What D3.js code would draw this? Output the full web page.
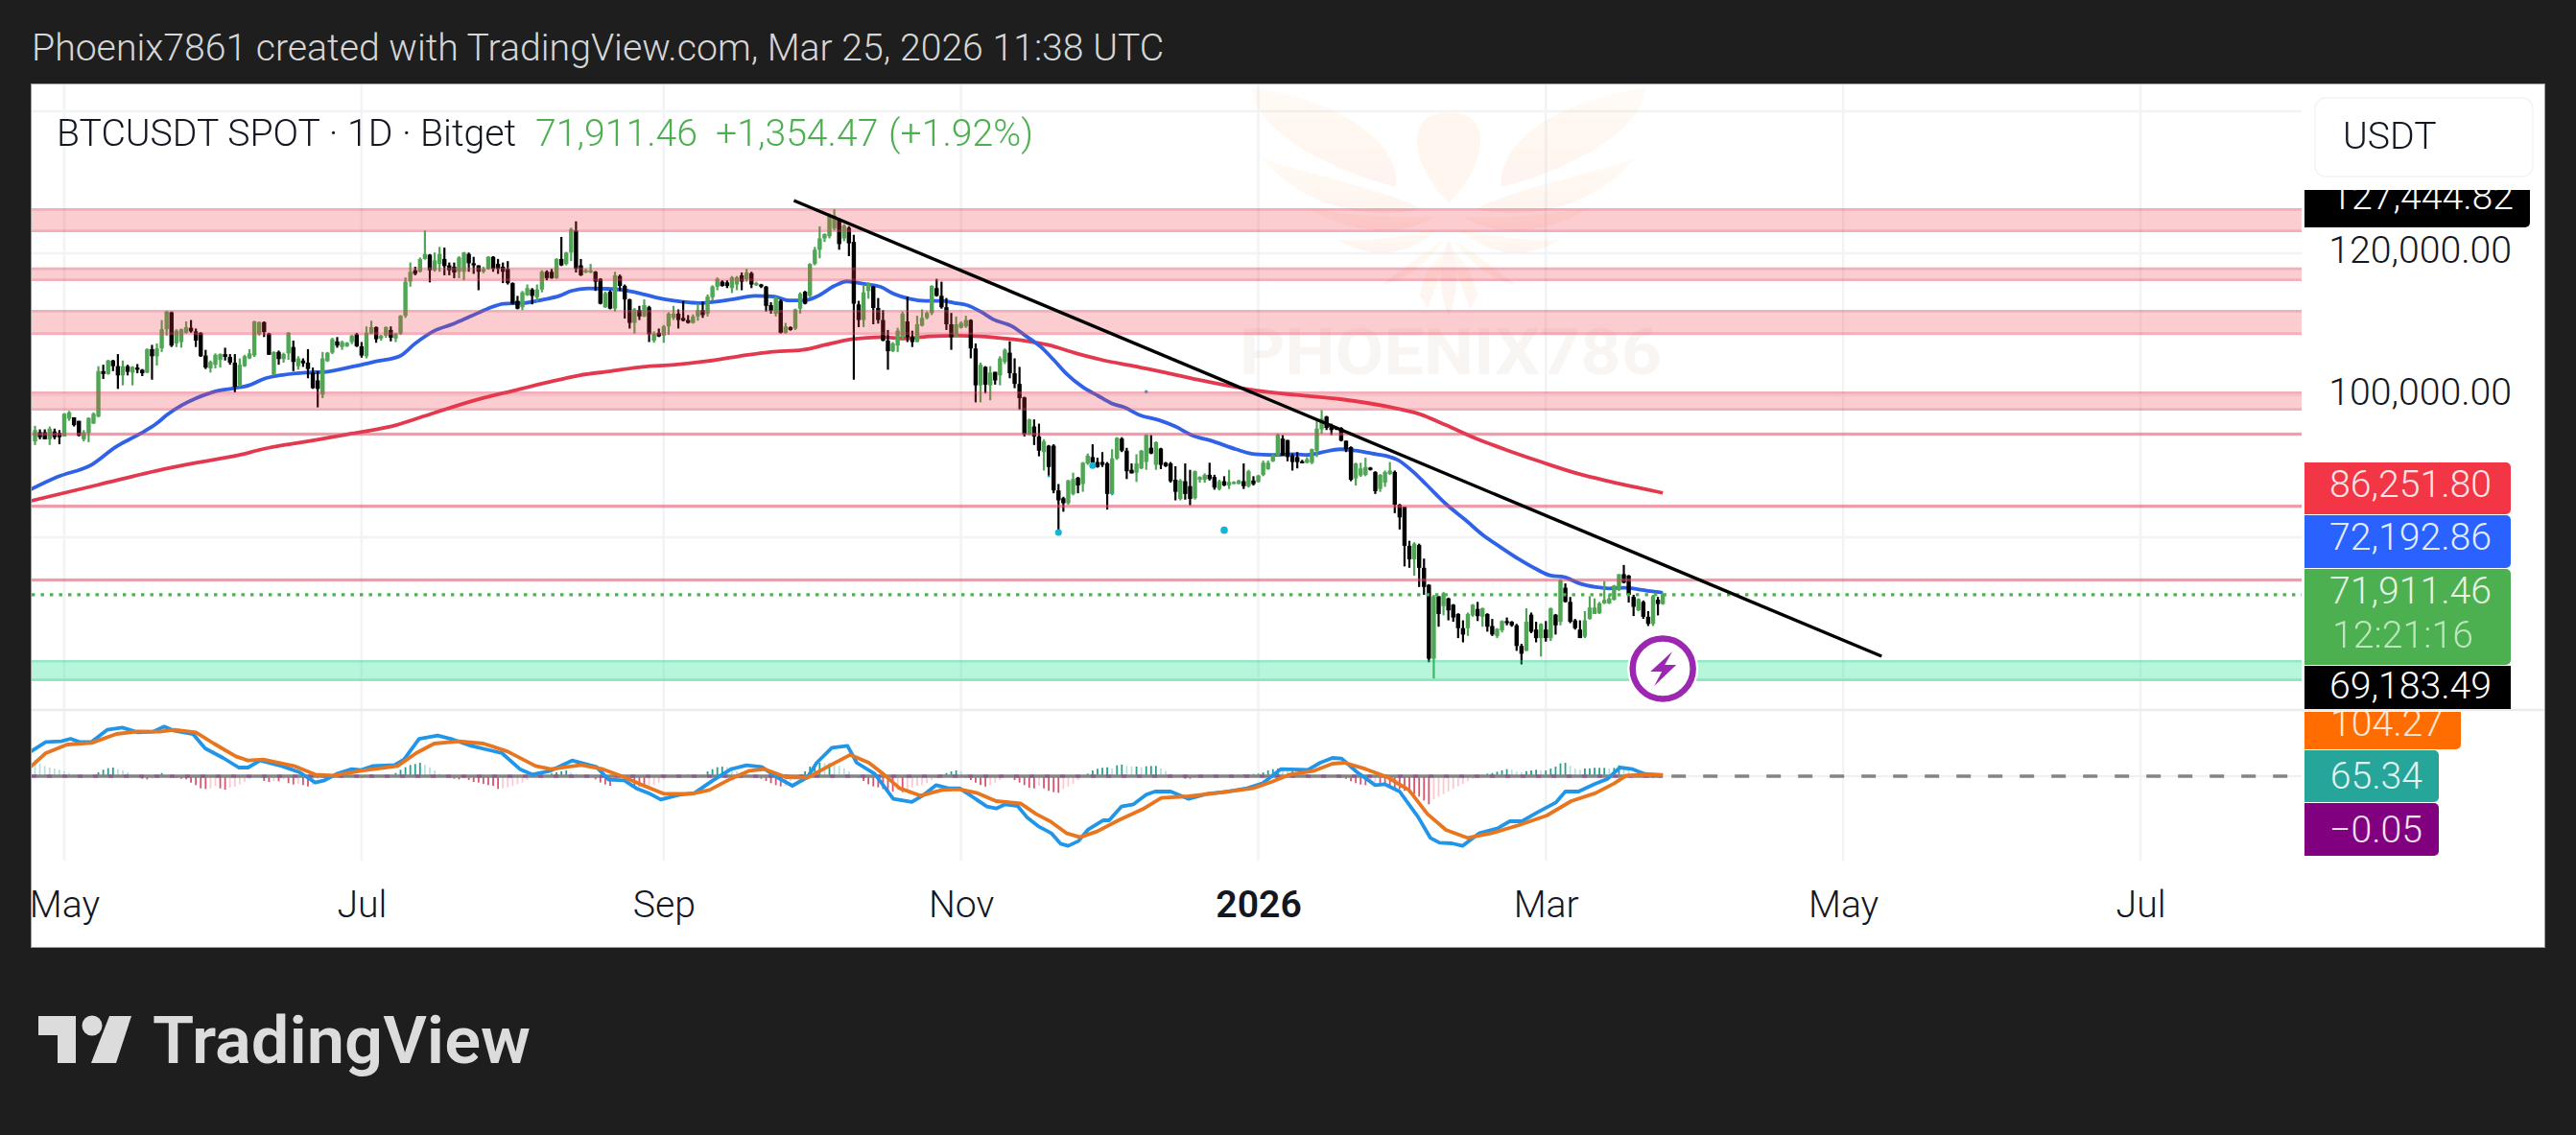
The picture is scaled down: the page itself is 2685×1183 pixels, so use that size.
<!DOCTYPE html>
<html><head><meta charset="utf-8">
<script src="https://cdn.jsdelivr.net/npm/d3@7"></script>
<style>html,body{margin:0;padding:0;background:#1e1e1e;overflow:hidden}svg{display:block}text{font-family:Roboto,sans-serif}</style>
</head><body><svg id="c" width="2685" height="1183"></svg>
<script>
// ---- values (prices in thousand USDT, rows = open, high, low, close) ----
const candlesSpring=[
[93.5,95.7,93.0,95.1],[94.8,95.2,93.8,94.1],[94.8,95.2,93.8,93.8],[93.8,95.6,93.0,95.3],[94.9,95.3,93.8,94.1],[94.7,95.1,93.1,94.1],[94.2,97.5,94.2,97.4],[96.7,97.8,96.4,97.6],[96.9,96.9,95.6,95.8],[96.4,96.4,94.2,94.3],
[93.8,95.1,93.5,94.8],[94.7,96.9,93.4,96.8],[96.0,97.6,96.0,97.4],[97.0,104.1,96.9,103.4],[103.4,104.3,102.3,103.0],[103.0,105.0,102.9,104.9],[104.9,105.0,103.4,104.1],[104.1,105.8,100.9,102.8],[102.8,104.9,101.4,104.1],[104.1,104.3,102.8,103.3],
[103.2,104.1,101.4,104.0],[103.9,104.4,103.1,103.6],[103.6,103.7,102.7,103.1],[103.2,106.6,103.1,106.5],[106.5,107.1,102.2,105.5],[105.5,107.3,104.2,106.6],[106.6,110.6,106.1,109.3],[109.3,111.9,108.4,111.8],[111.7,111.8,106.8,107.0],[107.3,109.3,106.8,109.1],
[107.5,109.4,106.7,109.3],[108.8,110.4,108.7,109.6],[109.5,110.6,108.8,109.0],[109.0,109.4,106.8,107.7],[108.8,108.9,105.4,105.5],[105.6,106.4,103.7,103.9],[103.8,104.9,103.2,104.7],[104.3,105.9,103.8,105.7],[105.0,105.9,103.9,105.8],[105.8,106.7,104.9,105.4],
[105.4,105.8,104.3,104.6],[104.6,105.8,100.4,101.2],[101.4,105.2,101.2,104.3],[104.1,105.7,104.0,105.5],[105.2,106.5,105.1,105.9],[105.6,110.5,105.4,110.4],[108.6,110.4,108.4,110.3],[110.3,110.4,108.2,108.9],[108.7,108.8,105.7,105.7],[102.9,106.2,102.8,106.1],
[106.1,106.3,104.3,105.1],[105.1,106.0,104.6,105.8],[105.9,108.9,105.0,108.8],[106.8,107.7,103.4,104.7],[104.1,105.5,103.6,105.2],[104.9,105.2,104.0,104.5],[104.6,106.5,102.4,103.7],[103.2,103.9,100.9,101.0],[102.1,103.4,98.3,100.9],[100.1,106.1,99.6,105.2],
[104.8,106.1,104.7,106.0],[106.0,108.1,105.8,107.9],[107.6,108.2,106.7,107.0],[106.8,107.7,106.4,107.5],[106.9,107.5,106.8,107.4],[107.5,108.5,107.2,108.4],[108.6,108.8,106.8,106.9],[106.9,107.5,105.3,105.6],[105.5,109.7,105.2,108.8],[108.7,110.5,108.6,109.6],
[109.6,109.7,107.4,107.9],[108.0,108.5,107.7,108.4],[108.4,109.7,108.1,109.6],[109.2,109.7,107.6,108.1],[108.0,108.8,107.5,108.7],[108.7,111.3,108.5,111.2],[111.2,116.6,110.9,116.0],[116.0,118.7,115.3,117.4],[117.6,118.1,116.9,117.1],[117.4,119.4,117.3,119.2],
[119.2,123.2,119.1,119.9],[119.8,119.9,115.9,117.6],[117.6,120.1,117.4,119.0],[118.5,120.9,117.4,119.9],[119.2,120.8,116.9,118.2],[118.3,118.7,116.9,117.6]];
const candlesSummer=[
[118.1,118.7,116.5,117.3],[117.4,119.6,116.5,119.4],[117.4,120.2,116.2,120.1],[119.9,120.1,117.4,118.6],[118.6,119.5,117.1,118.3],[118.3,118.3,114.8,117.4],[117.4,118.1,117.2,117.8],[117.8,119.6,117.7,119.5],[119.5,119.6,117.4,117.8],[118.5,119.2,117.1,117.8],
[118.1,118.7,115.8,117.4],[117.8,118.9,115.6,115.8],[115.8,115.9,112.8,112.9],[113.3,114.0,112.1,112.2],[112.4,114.7,112.0,114.5],[114.1,115.6,114.0,115.1],[114.9,115.1,112.8,114.0],[113.8,115.6,113.2,114.9],[114.9,117.6,114.5,117.4],[117.4,117.6,116.2,116.5],
[117.4,117.8,116.4,116.5],[116.5,119.3,116.4,119.2],[119.2,122.3,118.2,118.3],[118.5,120.2,118.3,120.1],[120.1,123.6,118.9,123.4],[123.2,124.5,117.3,117.8],[118.3,119.2,116.8,116.9],[117.3,117.8,117.2,117.6],[117.3,118.5,117.2,117.6],[117.4,117.5,114.7,116.0],
[116.4,116.5,112.8,112.9],[112.4,114.6,112.3,114.4],[114.6,114.8,112.1,112.2],[112.2,117.4,111.8,116.9],[116.8,117.0,114.7,115.4],[115.4,115.6,110.8,113.5],[113.5,113.6,109.4,110.2],[110.2,112.3,108.7,112.1],[112.0,112.6,110.6,111.1],[111.1,113.5,111.0,112.7],
[112.4,112.6,107.5,108.6],[107.7,109.0,107.4,108.7],[108.8,109.4,108.2,108.3],[108.4,109.9,107.4,109.7],[109.7,111.7,108.5,111.5],[110.9,112.6,110.6,111.5],[111.5,112.1,109.4,110.6],[110.9,113.3,110.4,110.5],[110.6,111.3,110.1,110.2],[110.2,111.4,110.1,111.1],
[111.1,112.9,110.5,112.0],[112.0,113.2,110.9,111.3],[111.5,114.2,111.1,113.9],[113.8,115.5,113.3,115.3],[115.3,116.6,114.8,116.4],[116.0,116.2,115.3,115.4],[115.9,116.2,115.1,115.4],[115.1,116.8,114.4,116.6],[115.6,116.8,114.8,116.6],[116.9,117.3,114.8,116.0],
[116.3,117.8,116.0,117.3],[117.2,117.4,115.1,115.6],[115.5,116.0,115.4,115.8],[115.6,115.7,115.1,115.3],[115.3,115.4,111.8,112.6],[112.7,113.1,111.5,111.9],[111.5,113.9,111.1,113.8],[113.3,113.5,108.7,108.8],[108.8,110.2,108.7,109.7],[109.6,109.7,109.1,109.2],
[109.4,112.2,109.2,112.1],[112.2,114.5,111.5,114.3],[114.6,114.7,112.8,112.9],[114.0,118.6,113.8,118.5],[118.5,120.9,118.3,120.5],[120.5,123.8,119.3,122.1],[122.1,122.8,121.6,122.7],[122.4,125.6,122.1,125.4],[123.5,126.2,123.2,125.3],[124.8,125.0,120.5,121.3],
[122.1,124.1,121.7,123.9],[123.6,123.8,119.6,121.4],[121.6,122.6,102.2,112.9],[112.8,113.3,109.6,110.6],[110.6,115.6,109.6,114.5],[114.7,115.9,113.6,115.8],[115.3,115.4,110.0,112.3],[112.3,113.7,110.1,110.6]];
const candlesAutumn=[
[110.6,112.0,107.6,107.7],[107.7,109.2,103.6,106.2],[106.2,107.5,106.1,107.3],[107.0,109.5,106.1,109.1],[108.2,111.8,107.7,111.5],[110.4,113.9,107.5,108.2],[108.2,109.1,106.8,107.5],[107.5,111.2,107.5,110.0],[109.8,112.1,109.7,110.9],[110.9,111.8,110.7,111.6],
[111.6,115.5,111.3,115.4],[115.1,116.4,113.9,114.0],[114.0,116.0,112.2,112.4],[112.4,113.7,109.2,110.0],[110.0,111.6,106.4,108.2],[108.3,111.1,108.2,110.0],[109.5,110.4,109.4,110.2],[109.7,111.2,109.5,110.6],[110.6,110.7,105.2,106.6],[106.6,107.3,99.0,101.4],
[101.4,104.6,99.0,104.3],[104.0,104.1,100.3,101.5],[101.4,104.1,99.3,103.2],[103.3,103.3,101.5,102.1],[102.8,105.5,101.4,105.2],[104.7,106.6,104.4,106.4],[106.0,107.6,102.4,103.1],[103.1,105.2,101.0,101.6],[101.6,104.0,98.0,99.6],[99.7,99.8,94.2,94.5],
[94.5,96.7,94.4,96.6],[95.6,96.6,93.0,94.2],[94.2,96.0,91.4,92.2],[92.0,93.8,89.4,93.5],[92.9,93.0,88.5,89.9],[92.9,93.1,86.2,86.6],[86.6,87.5,80.7,85.2],[85.5,85.7,83.6,84.8],[84.8,88.1,84.6,88.0],[86.1,89.1,85.9,88.2],
[88.4,88.5,86.2,87.3],[87.5,90.6,86.4,90.5],[90.4,91.8,90.2,91.5],[91.3,93.1,90.4,90.5],[90.6,91.2,89.8,89.9],[90.6,92.0,89.9,90.2],[90.4,90.6,83.9,86.1],[86.1,92.4,85.9,91.1],[91.1,94.1,90.9,94.0],[93.9,94.1,92.0,92.2],
[92.2,92.6,88.2,89.3],[89.5,90.4,89.0,89.0],[89.1,91.7,87.8,90.4],[89.7,92.3,89.6,92.2],[90.6,94.5,89.5,94.4],[92.6,94.4,91.7,91.8],[90.2,93.5,89.5,93.4],[92.5,92.6,89.6,90.2],[90.5,90.6,89.9,90.0],[90.4,90.6,87.7,87.9],
[88.1,90.0,85.2,86.4],[85.4,88.2,85.2,88.0],[87.9,90.4,85.3,86.1],[87.2,89.5,84.5,85.4],[85.5,89.4,85.3,89.3],[88.1,88.6,87.7,88.5],[88.1,89.0,87.7,88.8],[88.8,90.5,88.0,88.2],[88.5,88.8,86.7,87.0],[86.8,88.1,86.6,87.9],
[87.9,88.6,87.2,87.3],[87.3,89.5,86.8,87.8],[87.5,87.9,87.5,87.8],[87.5,88.1,87.5,88.0],[87.9,90.4,86.8,87.2],[87.2,89.5,87.0,89.3],[88.0,88.6,87.3,87.5],[87.8,88.8,87.7,88.7],[88.8,90.8,88.6,90.5],[89.6,90.8,89.5,90.5],[90.7,91.7,90.6,91.6]];
const candlesWinter=[
[91.5,94.6,91.4,94.4],[93.9,94.4,91.5,91.5],[93.7,93.7,90.7,91.3],[91.5,91.8,89.4,90.6],[91.3,92.0,89.7,90.6],[90.7,90.9,90.4,90.5],[90.5,91.3,90.4,91.0],[90.5,92.5,90.3,92.4],[92.2,96.6,91.3,95.3],[95.2,97.9,94.6,96.7],
[97.0,97.1,95.1,95.4],[95.7,96.0,94.4,95.1],[95.5,95.5,95.1,95.2],[95.4,95.5,93.5,93.6],[93.6,93.6,92.0,92.4],[92.7,92.8,87.9,88.1],[88.3,90.5,87.3,90.4],[88.7,90.5,88.5,89.7],[88.8,91.2,88.6,89.9],[89.8,89.9,89.4,89.5],
[89.2,89.3,86.1,86.5],[86.8,88.9,86.4,88.8],[87.7,89.4,87.1,89.2],[88.9,90.6,88.8,89.4],[89.2,89.4,83.4,84.6],[84.6,84.7,81.1,82.8],[84.3,84.3,75.9,78.8],[78.8,79.5,75.7,76.9],[76.9,79.3,74.6,79.1],[78.9,79.1,73.0,75.7],
[75.7,77.0,71.9,73.0],[73.3,73.4,62.4,62.9],[62.9,71.9,60.1,71.7],[71.7,71.7,67.4,69.2],[70.3,72.3,69.0,72.1],[71.4,71.5,68.3,69.7],[70.5,70.6,68.1,68.7],[69.2,69.3,65.8,67.2],[67.2,68.3,65.2,66.3],[67.2,69.4,66.1,69.2],
[69.0,70.6,68.8,70.5],[69.9,70.9,68.2,68.9],[68.8,70.1,67.4,70.0],[69.2,69.3,66.7,67.4],[67.5,68.5,66.1,66.3],[66.1,67.2,65.8,67.1],[66.9,68.3,66.6,68.2],[68.2,68.7,67.6,67.9],[68.1,68.2,67.4,67.6],[67.6,67.8,64.0,64.7],
[64.7,65.0,62.1,63.6],[64.0,70.0,64.0,68.1],[69.1,69.4,66.5,66.7],[67.0,68.1,65.2,65.8],[65.8,67.9,63.2,67.8],[67.0,68.2,65.3,65.8],[65.8,70.1,65.4,70.0],[69.1,69.2,66.3,67.6],[68.1,74.1,67.6,73.9],[72.9,73.5,70.8,70.9],
[70.9,71.6,67.9,68.1],[68.3,68.5,67.0,67.2],[67.0,68.3,65.8,65.8],[66.0,69.6,65.8,68.3],[68.5,71.7,68.4,70.1],[69.2,71.4,69.2,70.1],[69.3,70.9,69.2,70.7],[70.7,73.8,70.6,71.2],[70.7,71.9,70.6,71.4],[71.2,73.3,71.1,73.2],
[72.6,74.8,72.4,74.8],[74.8,76.1,73.5,73.6],[74.6,74.7,70.8,71.9],[71.6,71.9,68.9,70.2],[69.7,71.4,69.6,71.3],[70.9,71.1,68.5,68.8],[68.8,69.6,67.5,67.8],[67.8,71.9,67.5,71.7],[71.2,71.6,69.0,70.6],[70.6,72.2,70.5,71.91]];

// moving averages: [days after 1 May 2025, price]
const blueAverage=[[-7,86.7],[-1.4,88.5],[5.8,90.3],[10.4,92.65],[15.6,94.6],[18.9,96],[20.9,97.15],[24.1,98.6],[27.1,99.6],[30.7,100.5],[34.6,100.97],[37.9,101.4],[40.9,102.3],[45.1,102.9],[49.7,103.2],[53.7,103.3],[58.9,104],[64.2,104.8],[68.8,105.5],[72,107.3],[76,109.1],[79.6,110],[83.3,111.1],[86.9,112.2],[90.2,112.9],[94.4,113],[98.4,113.5],[101.6,114],[104,114.7],[107.5,115.05],[111.4,115],[114.8,114.8],[118.7,114.25],[122.6,113.6],[126.6,113.2],[130.1,113],[133.8,113.2],[137.8,113.6],[141.7,114],[145.7,113.9],[148.8,113.35],[151.8,113.35],[154.7,114],[158,115.4],[160.6,116.05],[164,115.7],[167.4,115.3],[170.2,114.3],[173.4,113.6],[176.8,113.3],[180.1,113.3],[182.7,113],[185.2,112.7],[188,111.8],[190.6,110.7],[194.5,109.7],[197,108.5],[200.4,106.8],[203,105],[205.7,103],[208.9,101.2],[212.2,99.9],[214.8,98.9],[217.5,98.3],[220.7,97.2],[224.6,96.5],[228,95.6],[231.3,94.4],[235.8,93.5],[240.4,92.4],[244.3,91.7],[247.6,91.6],[252.6,91.7],[255.1,91.6],[257.9,91.95],[261.8,92.4],[265,92.2],[268.3,91.8],[271.6,91.4],[273.6,90.9],[276.8,89.2],[279.5,87.4],[283.5,84.7],[287.4,82.5],[291.3,80.2],[294.5,78.7],[298.5,76.9],[301.8,75.6],[305,74.6],[307.7,74.4],[310.9,73.5],[314.2,73],[316.9,72.8],[320.1,72.9],[322.8,72.7],[325.4,72.4],[328,72.19]];
const redAverage=[[-7,85.1],[7,87.4],[20.5,89.6],[25.4,90.3],[36,91.6],[40.6,92.4],[47,93.2],[52.4,93.8],[58.9,94.6],[68.1,95.8],[74,97.1],[79.9,98.4],[85.9,99.6],[92.5,100.7],[99,101.8],[105.6,102.8],[112.2,103.4],[118.7,104],[125.3,104.3],[131.9,104.8],[138.4,105.5],[144.9,106.1],[151.5,106.4],[156.1,107.1],[160.6,107.8],[164.6,108.1],[167.9,108.2],[172.2,108],[177.4,108.3],[183.3,108.4],[188,108.3],[193.1,108],[197,107.7],[201.8,107.1],[207.7,105.9],[212.8,105],[219.5,104.1],[226,103.2],[232.5,102.2],[239.2,101.3],[244.3,100.7],[252.8,100.04],[261.8,99.46],[273,98.2],[278.1,97.35],[283.5,95.8],[289.4,94],[295.9,92.3],[303.1,90.6],[310.9,88.9],[316.9,87.9],[322.8,87],[328,86.25]];

// MACD pane: [days after 1 May 2025, value]
const macdLine=[[-7,1900],[-3.8,2675],[-.6,2725],[1.3,2925],[3.1,2675],[5.6,2675],[8.8,3625],[11.9,3800],[15.1,3425],[18.2,3475],[20.5,3875],[22.6,3550],[26.4,3300],[28.9,2175],[32.6,1425],[35.8,675],[37.7,675],[40.2,1225],[44.6,800],[48.3,300],[51.5,-500],[53.4,-325],[55.9,175],[59,550],[60.9,475],[63.4,800],[67.8,875],[69.7,1300],[72.8,2925],[76.6,3175],[79.7,2875],[83.5,2375],[89.8,1800],[93.5,550],[96,125],[99.8,425],[104.2,1225],[109.2,725],[111.7,-275],[114.9,-325],[117.4,-950],[119.9,-1325],[122.4,-1825],[126.2,-1450],[129.3,-1325],[133.1,-325],[136.8,550],[140,850],[143.1,725],[146.2,-75],[149.4,-750],[152.5,-75],[154.4,1050],[157.5,2225],[160.7,2375],[162.6,1050],[166.3,175],[170.1,-1775],[173.9,-2025],[176.4,-1450],[178.9,-700],[181.4,-950],[183.7,-950],[186.2,-1575],[189.3,-2375],[191.2,-2525],[193.1,-2200],[195.6,-2325],[197.5,-3200],[200,-3950],[202.5,-4450],[204.4,-5275],[206,-5450],[208.1,-5075],[210,-4200],[213.2,-3450],[214.4,-3450],[216.9,-2375],[219.4,-2200],[222,-1450],[223.8,-1200],[227,-1200],[230.7,-1775],[234.5,-1375],[238.9,-1200],[242.7,-950],[245.8,-575],[249.6,550],[255.2,500],[257.7,1050],[260.2,1425],[262.1,1375],[265.3,300],[269,-700],[270.9,-625],[274,-1200],[277.8,-3200],[280.3,-4825],[282.2,-5200],[284.7,-5250],[286.9,-5450],[290.4,-4450],[294.1,-4075],[296.6,-3525],[299.1,-3525],[302.3,-2825],[306,-2075],[308,-1200],[310.7,-1200],[314.2,-575],[316.7,-200],[319.2,675],[321.8,550],[324.3,175],[328,65]];
const signalLine=[[-7,700],[-3.8,1800],[.6,2475],[5.6,2600],[10.7,3300],[15.1,3500],[19.5,3475],[22.6,3625],[27,3425],[30.7,2550],[35.2,1550],[37.7,1225],[40.8,1300],[47.1,800],[51.5,125],[55.2,50],[60.9,425],[68.4,800],[72.2,1800],[75.9,2550],[81,2725],[86,2550],[91,1925],[96.7,800],[99.8,550],[106.1,875],[110.5,550],[114.9,-75],[118.6,-700],[123,-1375],[128.7,-1375],[132.4,-1075],[136.8,-200],[140.6,425],[143.7,550],[148.1,-75],[152.5,-125],[156.9,800],[161.3,1675],[165.1,1050],[168.2,125],[171.4,-950],[175.7,-1525],[180.1,-1075],[183.7,-1025],[187.4,-1325],[191.2,-1950],[196.2,-2125],[199.4,-2950],[202.5,-3575],[205.6,-4450],[208.4,-4775],[211.9,-4325],[216.3,-3450],[221.3,-2575],[225.1,-1700],[230.7,-1575],[236.4,-1325],[243.9,-950],[247.7,-450],[251.5,125],[256.5,425],[260.2,975],[262.7,1050],[267.1,550],[271.5,-75],[275.9,-1075],[279.7,-2950],[283.5,-4200],[287.9,-4825],[292.9,-4450],[298.5,-3825],[304.2,-3075],[309.2,-1950],[314.2,-1325],[318,-575],[320.5,50],[324.3,125],[328,104]];
// histogram, one value per day; each list starts at the day named beside it
const histStartSpring=-6, histSpring=[1300,1000,800,675,600,500,375,250,125,50,-50,-75,75,300,500,625,675,550,450,300,150,75,-200,-250,-200,-125,250,75,-75,-150,-200,-250,-500,-700,-950,-1000,-950,-750,-950,-1050,-900,-825,-650,-450,-200,-75,-25,-375,-450,-375,-400,-250,-550,-650,-600,-700,-800,-700,-250,-150,-75,-25,0,100,200,-50,-100,-150,75,125,50,-75,50,75,250,500,700,875,950,1050,875,700,450,200];
const histStartSummer=79, histSummer=[-75,-200,-250,-200,-300,-450,-500,-600,-700,-750,-1000,-950,-875,-750,-625,-500,-300,-150,-75,0,75,200,300,375,450,300,200,75,0,-75,-250,-500,-650,-750,-375,-125,-75,-300,-750,-800,-850,-800,-700,-500,-300,-150,-75,50,75,125,75,25,100,375,550,700,750,700,500,375,200,75,-50,-125,-200,-375,-550,-700,-800,-750,-400,-150,-50,375,750,950,1050,1000,1000,950,800,625,375,125,-125];
const histStartAutumn=164, histAutumn=[-375,-625,-800,-875,-1000,-1125,-1200,-1050,-1250,-1125,-875,-750,-700,-550,-300,-150,100,250,375,450,400,-150,-300,-500,-700,-800,-700,-500,-300,-100,-50,-300,-500,-700,-900,-950,-750,-950,-1150,-1250,-1300,-1000,-800,-600,-300,-100,200,450,575,650,700,600,850,900,800,750,750,700,775,800,800,600,400,200,0,-75,-200,-200,-100,50,75,100,50,75,100,75,50,100,150,150,175,200,300,450,550,600,500,400,400,300,200,150,100,75,50,-25];
const histStartWinter=260, histWinter=[0,-25,-100,-200,-400,-550,-650,-700,-600,-450,-550,-700,-800,-900,-1000,-1150,-1300,-1400,-1600,-1900,-2200,-1800,-1600,-1400,-1200,-1000,-800,-600,-400,-200,-100,100,200,250,350,450,550,500,350,300,400,450,500,450,450,600,750,1000,1050,800,600,500,600,600,650,650,650,600,650,850,700,400,200,100,50,-100,-150,-100,-50];

const resistanceBands=[[126.35,122.97],[118.0,116.08],[112.03,108.51],[100.54,97.84],[94.75,94.3],[84.6,84.15],[74.2,73.75]];
const supportBand=[62.7,59.73];
const trendLine=[[149.7,127.43],[372.9,63.24]];
const dots=[[204,80.68,3.5],[238,80.99,3.8],[222,100.5,1.8],[211,90.1,3.5],[215,86.1,1.2],[202,88.6,1.2]];
const monthTicks=['2025-05-01','2025-07-01','2025-09-01','2025-11-01','2026-01-01','2026-03-01','2026-05-01','2026-07-01'];
const monthLabels=['May','Jul','Sep','Nov','2026','Mar','May','Jul'];
const priceTicks=[120,100], gridPrices=[140,120,100,80,60];
const lastClose=71.91146;
const legendName='BTCUSDT SPOT · 1D · Bitget', legendValues=['71,911.46','+1,354.47','(+1.92%)'];
const headerText='Phoenix7861 created with TradingView.com, Mar 25, 2026 11:38 UTC';

// ---- scales ----
const FS=39.2;
const L=33,R=2652,PR=2399,T=88,B=987,SEP=740,XB=897;
const t0=Date.UTC(2025,4,1), dayDate=d=>new Date(t0+d*864e5);
const x=d3.scaleUtc().domain([new Date(Date.UTC(2025,4,1)),new Date(Date.UTC(2026,6,1))]).range([67,2231]);
const y=d3.scaleLinear().domain([60,140]).range([708,116]);
const m=d3.scaleLinear().domain([0,1000]).range([809,795.67]);
const svg=d3.select('#c');
const defs=svg.append('defs');
defs.append('clipPath').attr('id','pane').append('rect').attr('x',L).attr('y',T).attr('width',PR-L).attr('height',SEP-T);
defs.append('clipPath').attr('id','sub').append('rect').attr('x',L).attr('y',SEP+1).attr('width',PR-L).attr('height',XB-SEP);
defs.append('clipPath').attr('id','panel').append('rect').attr('x',L).attr('y',T).attr('width',R-L).attr('height',B-T);
const wg=defs.append('linearGradient').attr('id','wing').attr('x1',0).attr('x2',0).attr('y1',0).attr('y2',1);
wg.append('stop').attr('offset','0').attr('stop-color','#fbd08a');
wg.append('stop').attr('offset','.6').attr('stop-color','#f8a86a');
wg.append('stop').attr('offset','1').attr('stop-color','#f08a70');

svg.append('rect').attr('width',2685).attr('height',1183).attr('fill','#1e1e1e');
svg.append('rect').attr('x',L-.5).attr('y',T-.5).attr('width',R-L+1).attr('height',B-T+1).attr('fill','#fff').attr('stroke','#9a9a9a').attr('stroke-width',1);
svg.append('text').attr('x',33).attr('y',63).attr('font-size',FS).attr('font-weight',300).attr('fill','#d6d6d6').text(headerText);

// grid
const grid=svg.append('g').attr('stroke','#f2f3f5').attr('stroke-width',2.5);
grid.selectAll('.v').data(monthTicks).join('line').attr('x1',d=>x(new Date(d))).attr('x2',d=>x(new Date(d))).attr('y1',T).attr('y2',XB);
const pane=svg.append('g').attr('clip-path','url(#pane)');
pane.selectAll('.h').data(gridPrices).join('line').attr('x1',L).attr('x2',PR).attr('y1',d=>y(d)).attr('y2',d=>y(d)).attr('stroke','#f2f3f5').attr('stroke-width',2.5);

// watermark
const wm=pane.append('g').attr('transform','translate(1510,0)').attr('opacity',.1);
const half=wm.append('g').attr('fill','url(#wing)');
const wingPaths=['M-205 92C-200 140-120 178-55 195C-50 150-110 105-205 92Z','M-195 165C-150 215-90 230-28 218C-60 200-130 186-195 165Z','M-150 215C-100 245-50 248-15 226C-50 225-100 228-150 215Z','M-115 250C-80 272-40 266-10 238C-50 248-90 252-115 250Z','M-70 297C-45 292-20 272-5 250C-25 262-55 285-70 297Z','M-30 308C-28 290-15 270-3 258C-5 280-15 300-22 322Z'];
[1,-1].forEach(s=>{wingPaths.forEach(p=>half.append('path').attr('d',p).attr('transform',`scale(${s},1)`));});
wm.append('path').attr('fill','#f8a860').attr('d','M0 212C-35 175-40 140-25 125C-15 115 15 115 25 125C40 140 35 175 0 212Z');
wm.append('path').attr('fill','#f59070').attr('d','M0 330C-12 300-10 270 0 250C10 270 12 300 0 330Z');
pane.append('text').attr('x',1292).attr('y',390).attr('font-size',66).attr('font-weight',700).attr('fill','#d8c0b4').attr('opacity',.16).attr('textLength',440).attr('lengthAdjust','spacingAndGlyphs').text('PHOENIX786');

// moving averages
const priceLine=d3.line().x(d=>x(dayDate(d[0]))).y(d=>y(d[1])).curve(d3.curveMonotoneX);
pane.append('path').datum(redAverage).attr('d',priceLine).attr('fill','none').attr('stroke','#e3394e').attr('stroke-width',3.8);
pane.append('path').datum(blueAverage).attr('d',priceLine).attr('fill','none').attr('stroke','#2f62e6').attr('stroke-width',3.8);

// candles
const candles=[...candlesSpring,...candlesSummer,...candlesAutumn,...candlesWinter].map((r,i)=>({day:i-6,o:r[0],h:r[1],l:r[2],c:r[3]}));
const cg=pane.append('g');
const col=d=>d.c>=d.o?'#4fa655':'#000';
cg.selectAll('.w').data(candles).join('line').attr('x1',d=>x(dayDate(d.day))).attr('x2',d=>x(dayDate(d.day))).attr('y1',d=>y(d.h)).attr('y2',d=>y(d.l)).attr('stroke',col).attr('stroke-width',2.2);
cg.selectAll('.b').data(candles).join('rect').attr('x',d=>x(dayDate(d.day))-2.2).attr('width',4.4).attr('y',d=>y(Math.max(d.o,d.c))).attr('height',d=>Math.max(2,Math.abs(y(d.o)-y(d.c)))).attr('fill',col);

// dots
pane.selectAll('.d').data(dots).join('circle').attr('cx',d=>x(dayDate(d[0]))).attr('cy',d=>y(d[1])).attr('r',d=>d[2]).attr('fill','#12b5d6');

// bands over the marks
const bands=pane.append('g');
resistanceBands.forEach(b=>{
  bands.append('rect').attr('x',L).attr('width',PR-L).attr('y',y(b[0])).attr('height',y(b[1])-y(b[0])).attr('fill','#f23645').attr('fill-opacity',.25);
  b.forEach(v=>bands.append('line').attr('x1',L).attr('x2',PR).attr('y1',y(v)+(v===b[0]?1.3:-1.3)).attr('y2',y(v)+(v===b[0]?1.3:-1.3)).attr('stroke','#d05070').attr('stroke-opacity',.24).attr('stroke-width',2.8));
});
bands.append('rect').attr('x',L).attr('width',PR-L).attr('y',y(supportBand[0])).attr('height',y(supportBand[1])-y(supportBand[0])).attr('fill','#14e08c').attr('fill-opacity',.3);
supportBand.forEach((v,i)=>bands.append('line').attr('x1',L).attr('x2',PR).attr('y1',y(v)+(i?-1.2:1.2)).attr('y2',y(v)+(i?-1.2:1.2)).attr('stroke','#14c07c').attr('stroke-opacity',.22).attr('stroke-width',2.6));

// last price
pane.append('line').attr('x1',L).attr('x2',PR).attr('y1',y(lastClose)).attr('y2',y(lastClose)).attr('stroke','#4caf50').attr('stroke-width',3.4).attr('stroke-dasharray','3.4 6.1');

// trend line
pane.append('line').attr('x1',x(dayDate(trendLine[0][0]))).attr('y1',y(trendLine[0][1])).attr('x2',x(dayDate(trendLine[1][0]))).attr('y2',y(trendLine[1][1])).attr('stroke','#000').attr('stroke-width',3.4);

// bolt badge
const bx=x(dayDate(328)), by=697;
svg.append('circle').attr('cx',bx).attr('cy',by).attr('r',37).attr('fill','#fff');
svg.append('circle').attr('cx',bx).attr('cy',by).attr('r',31.5).attr('fill','#fff').attr('stroke','#9c27b0').attr('stroke-width',6.5);
svg.append('path').attr('transform',`translate(${bx},${by})`).attr('d','M10 -18L-13 3L-1 3L-9 18L14 -4L2 -4Z').attr('fill','#9c27b0');

// MACD pane
const sub=svg.append('g').attr('clip-path','url(#sub)');
const hist=[[histStartSpring,histSpring],[histStartSummer,histSummer],[histStartAutumn,histAutumn],[histStartWinter,histWinter]].flatMap(([s,a])=>a.map((v,i)=>({day:s+i,v})));
hist.forEach((h,i)=>{h.prev=i?hist[i-1].v:h.v+1;});
sub.selectAll('.hb').data(hist).join('line').attr('x1',d=>x(dayDate(d.day))).attr('x2',d=>x(dayDate(d.day))).attr('y1',m(0)).attr('y2',d=>m(d.v)).attr('stroke-width',1.8)
  .attr('stroke',d=>d.v>=0?(d.v>=d.prev?'#2a9d8f':'#b9e0dc'):(d.v<=d.prev?'#d9536b':'#fbc9d0'));
const lastX=x(dayDate(328));
sub.append('line').attr('x1',L).attr('x2',lastX).attr('y1',m(0)).attr('y2',m(0)).attr('stroke','#848484').attr('stroke-width',3.4);
sub.append('line').attr('x1',L).attr('x2',lastX).attr('y1',m(0)).attr('y2',m(0)).attr('stroke','#a020a0').attr('stroke-opacity',.45).attr('stroke-width',3.4).attr('stroke-dasharray','5 11');
sub.append('line').attr('x1',lastX).attr('x2',PR).attr('y1',m(0)).attr('y2',m(0)).attr('stroke','#f0f0f0').attr('stroke-width',2);
sub.append('line').attr('x1',lastX+9).attr('x2',PR).attr('y1',m(0)).attr('y2',m(0)).attr('stroke','#848484').attr('stroke-width',3.4).attr('stroke-dasharray','15 18');
const subLine=d3.line().x(d=>x(dayDate(d[0]))).y(d=>m(d[1]));
sub.append('path').datum(macdLine).attr('d',subLine).attr('fill','none').attr('stroke','#2196e8').attr('stroke-width',3.8).attr('stroke-linejoin','round');
sub.append('path').datum(signalLine).attr('d',subLine).attr('fill','none').attr('stroke','#e8751f').attr('stroke-width',3.8).attr('stroke-linejoin','round');

// separator
svg.append('line').attr('x1',L).attr('x2',R).attr('y1',SEP).attr('y2',SEP).attr('stroke','#ececec').attr('stroke-width',2.6);

// axes
const xg=svg.append('g').attr('clip-path','url(#panel)').append('g').attr('transform','translate(0,956)')
  .call(d3.axisBottom(x).tickValues(monthTicks.map(d=>new Date(d))).tickSize(0).tickPadding(0).tickFormat((d,i)=>monthLabels[i]));
xg.select('.domain').remove();
xg.selectAll('text').attr('y',0).attr('dy',0).attr('font-size',FS).attr('font-family','Roboto').attr('font-weight',(d,i)=>monthLabels[i]==='2026'?600:300).attr('fill','#131722');
const yg=svg.append('g').attr('transform','translate(2618,0)')
  .call(d3.axisRight(y).tickValues(priceTicks).tickSize(0).tickFormat(d=>d3.format(',.2f')(d*1000)));
yg.select('.domain').remove();
yg.selectAll('text').attr('x',0).attr('dy',9).attr('text-anchor','end').attr('font-size',FS).attr('font-family','Roboto').attr('font-weight',300).attr('fill','#131722');

// legend
const lg=svg.append('g').attr('font-size',FS).attr('font-weight',300);
lg.append('text').attr('x',59).attr('y',152).attr('fill','#131722').text(legendName);
legendValues.forEach((t,i)=>lg.append('text').attr('x',[558,746,926][i]).attr('y',152).attr('fill','#4caf50').text(t));

// USDT box
svg.append('rect').attr('x',2413).attr('y',102).attr('width',227).attr('height',82).attr('rx',11).attr('fill','#fff').attr('stroke','#f2f3f5').attr('stroke-width',1.5);
svg.append('text').attr('x',2442).attr('y',155).attr('font-size',FS).attr('font-weight',300).attr('fill','#131722').text('USDT');

// price labels
const tagRows=[
 {t:'127,444.82',y0:198,y1:237,x1:2637,b:218,r:2620,f:'#000',c:'#fff'},
 {t:'86,251.80',y0:482,y1:536,x1:2617,b:518,r:2597,f:'#f23645',c:'#fde4e6'},
 {t:'72,192.86',y0:537,y1:592,x1:2617,b:573,r:2597,f:'#2962ff',c:'#e4ebff'},
 {t:'71,911.46',y0:593,y1:693,x1:2617,b:629,r:2597,f:'#4caf50',c:'#e4f4e5'},
 {t:'69,183.49',y0:694,y1:739,x1:2617,b:728,r:2597,f:'#000',c:'#fff'},
 {t:'104.27',y0:742,y1:781,x1:2565,b:767,r:2547,f:'#ff6d00',c:'#ffe6d4'},
 {t:'65.34',y0:782,y1:836,x1:2542,b:822,r:2525,f:'#26a69a',c:'#e0f4f2'},
 {t:'\u22120.05',y0:837,y1:892,x1:2542,b:878,r:2525,f:'#800080',c:'#f5e0f5'}];
const tagG=svg.append('g');
tagRows.forEach((d,i)=>{
  const id='tag'+i;
  defs.append('clipPath').attr('id',id).append('rect').attr('x',2402).attr('y',d.y0).attr('width',d.x1-2402).attr('height',d.y1-d.y0);
  const g=tagG.append('g').attr('clip-path',`url(#${id})`);
  const top=(i===0||i===4||i===5)?-8:0, bot=(i===4)?8:0;
  g.append('rect').attr('x',2392).attr('y',d.y0+top).attr('width',d.x1-2392).attr('height',d.y1-d.y0-top+bot).attr('rx',5).attr('fill',d.f);
  g.append('text').attr('x',d.r).attr('y',d.b).attr('text-anchor','end').attr('font-size',FS).attr('font-weight',300).attr('fill',d.c).text(d.t);
});
svg.append('text').attr('x',2431).attr('y',675).attr('font-size',FS).attr('font-weight',300).attr('fill','#bde6bf').text('12:21:16');

// logo
const lo=svg.append('g').attr('fill','#dcdcdc');
lo.append('path').attr('d','M40 1059H79V1108H60V1079H40Z');
lo.append('circle').attr('cx',96).attr('cy',1069).attr('r',10.5);
lo.append('path').attr('d','M105 1108H95L114 1059H137L121 1108Z');
lo.append('text').attr('x',159).attr('y',1108).attr('font-size',68).attr('font-family','Inter').attr('font-weight',600).attr('textLength',394).attr('lengthAdjust','spacingAndGlyphs').text('TradingView');
</script></body></html>
